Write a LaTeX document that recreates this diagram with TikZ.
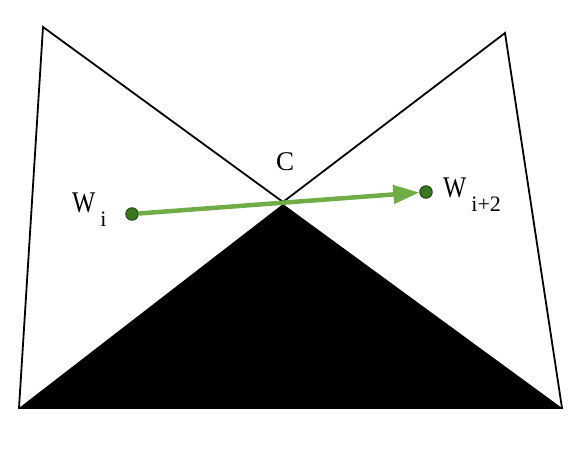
\documentclass[tikz,border=0pt]{standalone}
\usepackage{fontspec}
\setmainfont{Liberation Serif}
\usetikzlibrary{arrows.meta}

\definecolor{movegreen}{RGB}{112,173,71}
\definecolor{dotfill}{RGB}{58,120,32}
\definecolor{dotline}{RGB}{30,62,16}

\newcommand{\lowsub}[1]{\,\raisebox{-14pt}{\fontsize{22}{22}\selectfont #1}}
\newcommand{\wlet}{\fontsize{30}{30}\selectfont\scalebox{0.82}[1]{W}}

\tikzset{
    wdot/.style={circle, draw=dotline, fill=dotfill, line width=0.9pt, minimum size=12.5pt, inner sep=0pt},
    lbl/.style={inner sep=0pt, anchor=base west, font=\fontsize{27}{27}\selectfont},
    move/.style={draw=movegreen, line width=4.5pt, -{Triangle[length=26pt,width=18pt]}}
}

\begin{document}
\begin{tikzpicture}[x=1pt, y=-1pt]
            \useasboundingbox (0,0) rectangle (579,448);

            \coordinate (bl) at (19,408);
            \coordinate (tl) at (43,27);
            \coordinate (c) at (283,202);
            \coordinate (tr) at (505,33);
            \coordinate (br) at (562,408);

            \fill (bl) -- (283,204) -- (br) -- cycle;
            \draw [line width=1.8pt, line join=miter] (bl) -- (tl) -- (c) -- (tr) -- (br) -- cycle;

            \node [lbl] (clbl) at (276,170) {C};
            \node [lbl] (wilbl) at (72,212) {\wlet\lowsub{i}};
            \node [lbl] (wiilbl) at (443,197) {\wlet\lowsub{i+2}};

            \node [wdot] (wi) at (132,214) {};
            \node [wdot] (wii) at (426,192) {};

            \draw [move] (wi) -- (wii);
    \end{tikzpicture}
\end{document}
